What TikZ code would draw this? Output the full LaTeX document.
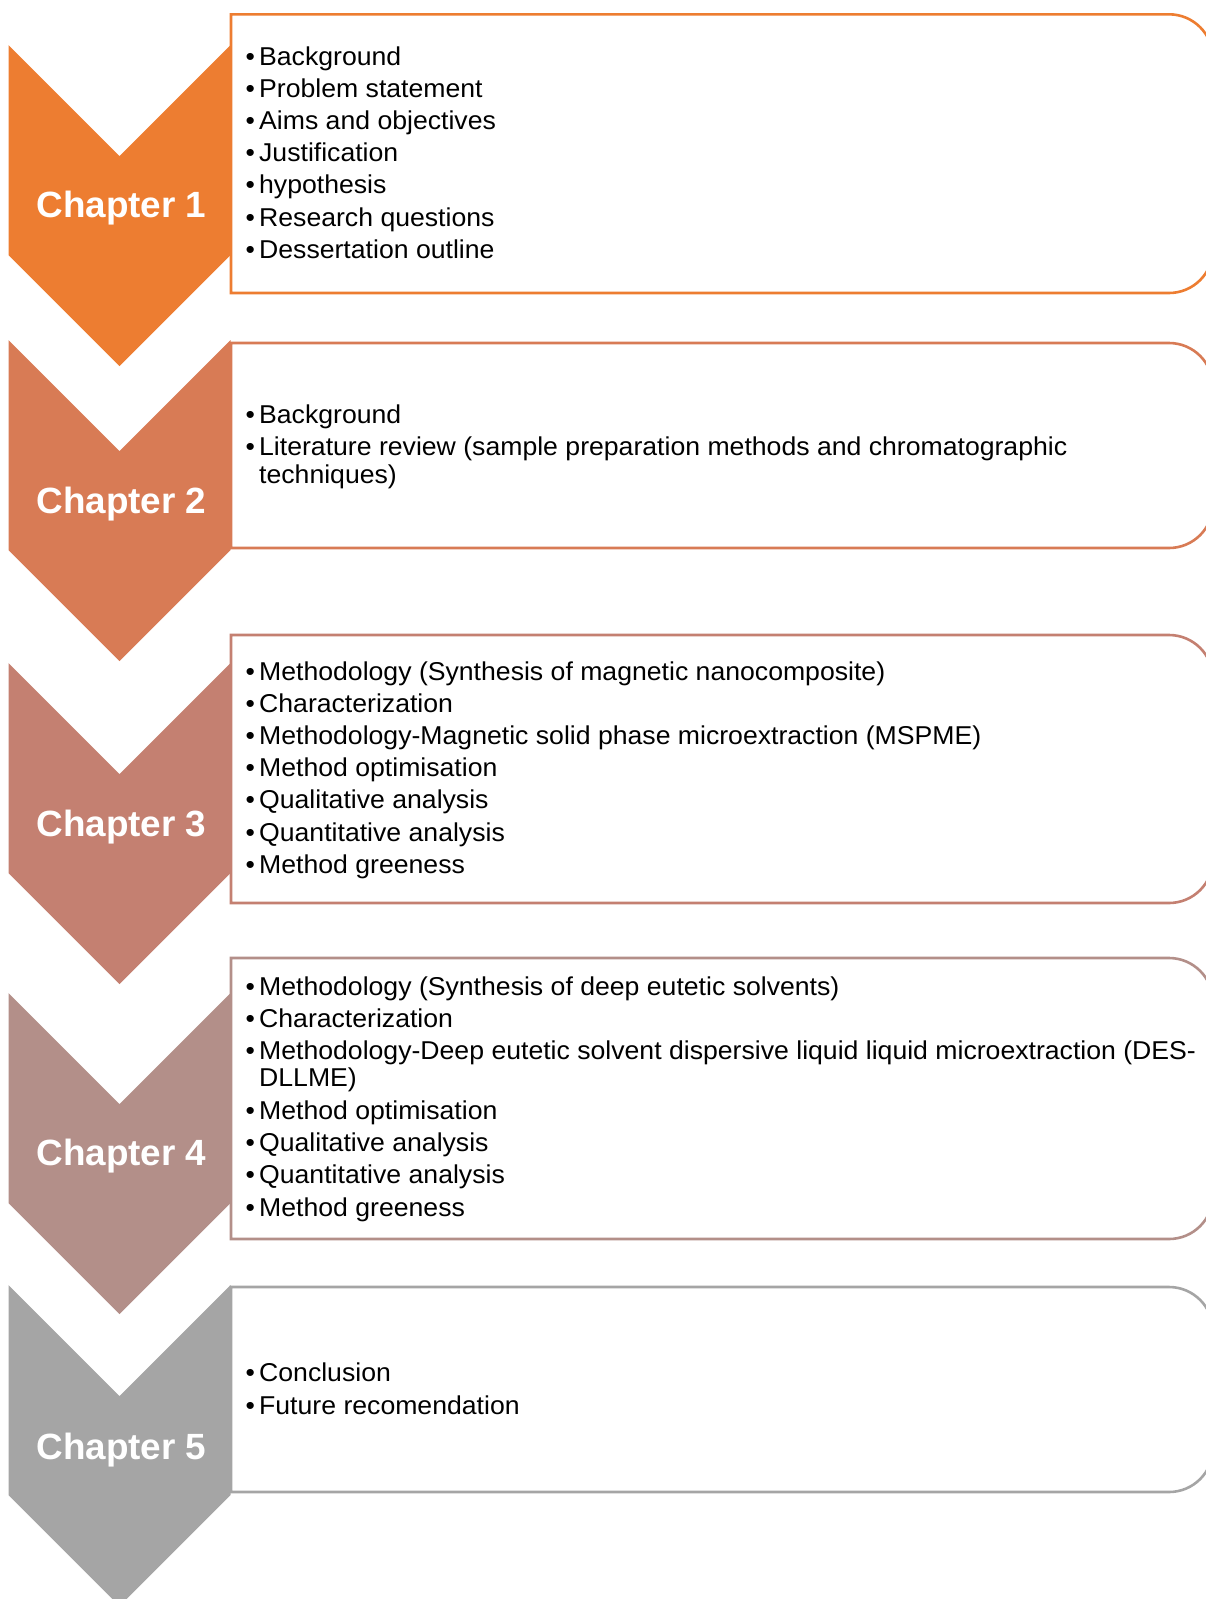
\documentclass[tikz,border=0pt]{standalone}
\usepackage{fontspec}
\setmainfont{Liberation Sans}
\newfontfamily\bodyfont[FakeStretch=1.032]{Liberation Sans}
\newfontfamily\chapfont[FakeStretch=1.01]{Liberation Sans}
\definecolor{cA}{HTML}{ED7D31}
\definecolor{cB}{HTML}{D87B55}
\definecolor{cC}{HTML}{C48071}
\definecolor{cD}{HTML}{B38F89}
\definecolor{cE}{HTML}{A5A5A5}
\newcommand{\bl}[1]{\makebox[13.5pt][l]{\textbullet}#1}
\newcommand{\chev}[2]{% top y, colour
  \fill[#2] (8.5,#1) -- (119.5,#1+111) -- (230.5,#1) -- (230.5,#1+210) -- (119.5,#1+321) -- (8.5,#1+210) -- cycle;}
\newcommand{\cbox}[3]{% top, bottom, colour
  \draw[boxline,draw=#3] (231,#2) -- (231,#1) -- (1169,#1) arc[start angle=270,end angle=360,radius=44] -- (1213,#2-44) arc[start angle=0,end angle=90,radius=44] -- cycle;}
\tikzset{
  boxline/.style={line width=2.6pt,fill=white},
  bodytxt/.style={anchor=base west,inner sep=0pt,font=\bodyfont\fontsize{25.8pt}{28pt}\selectfont,text=black},
  chaptxt/.style={anchor=base,inner sep=0pt,font=\chapfont\fontsize{36.5pt}{40pt}\selectfont\bfseries,text=white}
}
\begin{document}
\begin{tikzpicture}[x=1pt,y=-1pt]
\useasboundingbox (0,0) rectangle (1206,1599);
\clip (0,0) rectangle (1206,1599);
% boxes
\cbox{14.3}{293}{cA}
\cbox{343}{548}{cB}
\cbox{635}{903}{cC}
\cbox{958}{1239}{cD}
\cbox{1287}{1492}{cE}
% chevrons
\chev{45}{cA}
\chev{340}{cB}
\chev{663}{cC}
\chev{993}{cD}
\chev{1285}{cE}
% chapter labels
\node[chaptxt] (ch1) at (121.5,217) {Chapter 1};
\node[chaptxt] (ch2) at (121.5,513) {Chapter 2};
\node[chaptxt] (ch3) at (121.5,836) {Chapter 3};
\node[chaptxt] (ch4) at (121.5,1165) {Chapter 4};
\node[chaptxt] (ch5) at (121.5,1459) {Chapter 5};
% chapter 1 text
\node[bodytxt] (a1) at (245.5,65) {\bl{Background}};
\node[bodytxt] (a2) at (245.5,97.2) {\bl{Problem statement}};
\node[bodytxt] (a3) at (245.5,129.4) {\bl{Aims and objectives}};
\node[bodytxt] (a4) at (245.5,161.6) {\bl{Justification}};
\node[bodytxt] (a5) at (245.5,193.8) {\bl{hypothesis}};
\node[bodytxt] (a6) at (245.5,226) {\bl{Research questions}};
\node[bodytxt] (a7) at (245.5,258.2) {\bl{Dessertation outline}};
% chapter 2 text
\node[bodytxt] (b1) at (245.5,423.3) {\bl{Background}};
\node[bodytxt] (b2) at (245.5,455) {\bl{Literature review (sample preparation methods and chromatographic}};
\node[bodytxt] (b3) at (259,483.3) {techniques)};
% chapter 3 text
\node[bodytxt] (c1) at (245.5,680) {\bl{Methodology (Synthesis of magnetic nanocomposite)}};
\node[bodytxt] (c2) at (245.5,712.2) {\bl{Characterization}};
\node[bodytxt] (c3) at (245.5,744.4) {\bl{Methodology-Magnetic solid phase microextraction (MSPME)}};
\node[bodytxt] (c4) at (245.5,776.6) {\bl{Method optimisation}};
\node[bodytxt] (c5) at (245.5,808.8) {\bl{Qualitative analysis}};
\node[bodytxt] (c6) at (245.5,841) {\bl{Quantitative analysis}};
\node[bodytxt] (c7) at (245.5,873.3) {\bl{Method greeness}};
% chapter 4 text
\node[bodytxt] (d1) at (245.5,995) {\bl{Methodology (Synthesis of deep eutetic solvents)}};
\node[bodytxt] (d2) at (245.5,1027.3) {\bl{Characterization}};
\node[bodytxt] (d3) at (245.5,1059.3) {\bl{Methodology-Deep eutetic solvent dispersive liquid liquid microextraction (DES-}};
\node[bodytxt] (d4) at (259,1086.7) {DLLME)};
\node[bodytxt] (d5) at (245.5,1119.3) {\bl{Method optimisation}};
\node[bodytxt] (d6) at (245.5,1151.7) {\bl{Qualitative analysis}};
\node[bodytxt] (d7) at (245.5,1183.6) {\bl{Quantitative analysis}};
\node[bodytxt] (d8) at (245.5,1216) {\bl{Method greeness}};
% chapter 5 text
\node[bodytxt] (e1) at (245.5,1381.7) {\bl{Conclusion}};
\node[bodytxt] (e2) at (245.5,1414) {\bl{Future recomendation}};
\end{tikzpicture}
\end{document}
